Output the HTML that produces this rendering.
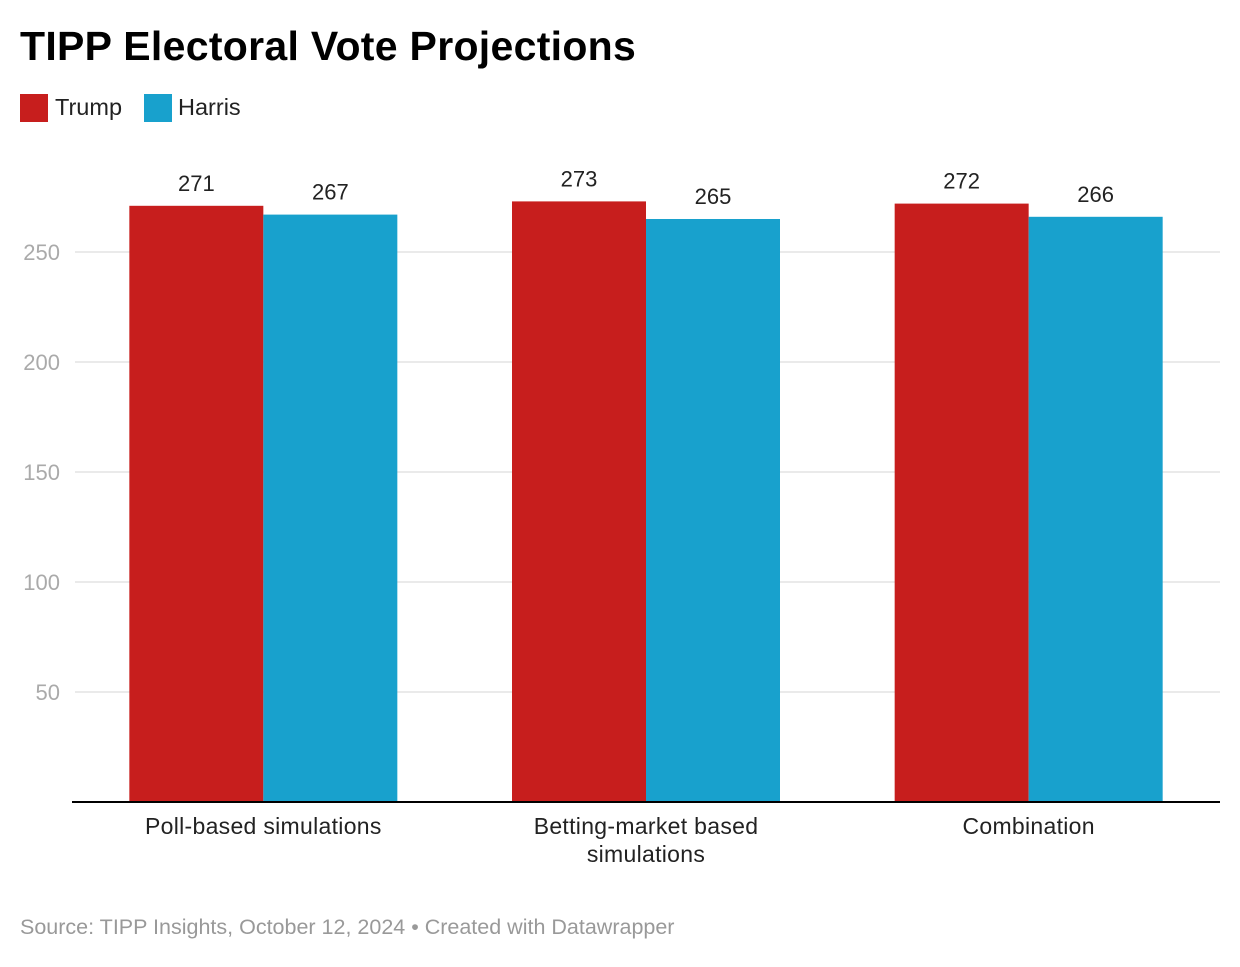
<!DOCTYPE html>
<html><head><meta charset="utf-8"><style>
body{margin:0;background:#fff;width:1240px;height:962px;overflow:hidden;font-family:"Liberation Sans",Arial,sans-serif}
</style></head><body>
<svg width="1240" height="962" style="font-family:'Liberation Sans',Arial,sans-serif">
<text x="20" y="60" font-size="41" font-weight="bold" fill="#000" letter-spacing="0.3">TIPP Electoral Vote Projections</text>
<g>
<rect x="20" y="94" width="28" height="28" fill="#c71e1d"/>
<text x="55" y="115" font-size="23.5" fill="#222">Trump</text>
<rect x="144" y="94" width="28" height="28" fill="#18a1cd"/>
<text x="178" y="115" font-size="23.5" fill="#222">Harris</text>
</g>
<g id="grid"></g><g id="bars"></g>
<line x1="72" x2="1220" y1="802" y2="802" stroke="#000" stroke-width="2"/>
<text x="20" y="934" font-size="21.5" fill="#999">Source: TIPP Insights, October 12, 2024 • Created with Datawrapper</text>
</svg>
<script>
const categories=[["Poll-based simulations"],["Betting-market based","simulations"],["Combination"]];
const trump=[271,273,272];
const harris=[267,265,266];
const ticks=[50,100,150,200,250];
const NS="http://www.w3.org/2000/svg";
const y=v=>802-v*2.2;
const groupW=(1220-72)/3;
const cx=i=>72+groupW*(i+0.5);
const bw=134;
function mk(t,a,p){const e=document.createElementNS(NS,t);for(const k in a)e.setAttribute(k,a[k]);p.appendChild(e);return e;}
const g=document.getElementById('grid'),b=document.getElementById('bars');
ticks.forEach(t=>{
 const l=mk('line',{x1:75,x2:1220,y1:y(t),y2:y(t),stroke:'#e3e3e3','stroke-width':1.5},g);
 
 
 const tx=mk('text',{x:60,y:y(t)+8,'font-size':22,fill:'#aaa','text-anchor':'end'},g);
 tx.textContent=t;
 
 
});
categories.forEach((c,i)=>{
 [[trump[i],'#c71e1d',-bw,'trump'],[harris[i],'#18a1cd',0,'harris']].forEach(([v,col,off,nm])=>{
  const r=mk('rect',{x:cx(i)+off,y:y(v),width:bw,height:802-y(v),fill:col},b);
  
  
  const t=mk('text',{x:cx(i)+off+bw/2,y:y(v)-15,'font-size':22,fill:'#222','text-anchor':'middle'},b);
  t.textContent=v;
  
  
 });
 c.forEach((line,j)=>{
  const t=mk('text',{x:cx(i),y:834+j*28,'font-size':23,fill:'#222','text-anchor':'middle','letter-spacing':0.3},b);
  t.textContent=line;
  
  
 });
});
</script>
</body></html>
